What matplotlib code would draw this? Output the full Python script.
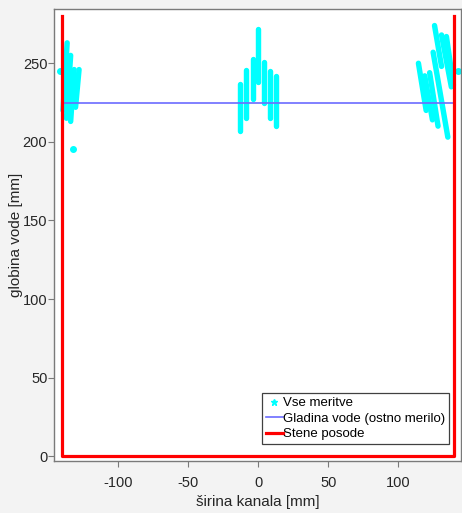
import matplotlib
matplotlib.use("Agg")
import matplotlib.pyplot as plt
from matplotlib.lines import Line2D

plt.rcParams["font.family"] = ["Liberation Sans", "DejaVu Sans"]
plt.rcParams["axes.unicode_minus"] = False

# measurement streaks: top end (x, y) and bottom end (x, y) in mm
streak_x_top = [-136.5, -134.0, -131.5, -128.0,
                -13.0, -9.0, -4.0, 0.0, 4.0, 8.5, 12.5,
                114.5, 119.0, 122.5, 125.0, 126.0, 131.0, 134.5]
streak_y_top = [263, 255, 246, 246,
                237, 246, 253, 272, 251, 245, 242,
                250, 242, 244, 257, 274, 268, 267]
streak_x_bot = [-139.5, -137.0, -134.0, -130.5,
                -13.0, -9.0, -4.0, 0.0, 4.0, 8.5, 12.5,
                120.0, 124.5, 128.5, 135.5, 131.0, 138.0, 139.5]
streak_y_bot = [220, 215, 213, 222,
                207, 215, 227, 238, 225, 215, 210,
                220, 214, 210, 203, 248, 235, 236]

# single stray measurements
point_x = [-132.0, -141.5, 142.5]
point_y = [195.5, 245.0, 245.0]

water_level = 225
wall_x = [-140, -140, 140, 140]
wall_y = [280, 0, 0, 280]

fig = plt.figure(figsize=(4.62, 5.13), dpi=100, facecolor="#f3f3f3")
ax = fig.add_axes([0.1175, 0.1014, 0.880, 0.881])
ax.set_facecolor("white")

cyan = "#00ffff"
for xt, yt, xb, yb in zip(streak_x_top, streak_y_top, streak_x_bot, streak_y_bot):
    ax.plot([xt, xb], [yt, yb], color=cyan, lw=3.9, solid_capstyle="round", zorder=2)
ax.plot(point_x, point_y, linestyle="none", marker="o", ms=4, color=cyan, zorder=2)

ax.plot([wall_x[0], wall_x[-1]], [water_level, water_level], color="#6b6bff", lw=1.2, zorder=3)
ax.plot(wall_x, wall_y, color="#ff0000", lw=2.3, zorder=4)

ax.set_xlim(-145.7, 144.8)
ax.set_ylim(-3, 284.5)
ax.set_xticks([-100, -50, 0, 50, 100])
ax.set_yticks([0, 50, 100, 150, 200, 250])

for s in ax.spines.values():
    s.set_color("#7a7a7a")
    s.set_linewidth(1.0)
ax.tick_params(direction="out", length=4, color="#7a7a7a", labelsize=10.5, labelcolor="#262626")
ax.tick_params(axis="x", pad=6.5)
ax.tick_params(axis="y", pad=1)
ax.set_xlabel("širina kanala [mm]", fontsize=11, color="#262626", labelpad=4)
ax.set_ylabel("globina vode [mm]", fontsize=11, color="#262626", labelpad=0)

handles = [
    Line2D([], [], linestyle="none", marker="*", ms=5, color=cyan),
    Line2D([], [], color="#6b6bff", lw=1.2),
    Line2D([], [], color="#ff0000", lw=2.3),
]
labels = ["Vse meritve", "Gladina vode (ostno merilo)", "Stene posode"]
leg = ax.legend(handles, labels, loc="lower right", bbox_to_anchor=(0.972, 0.037),
                fontsize=9.5, handlelength=1.3, handletextpad=0.05, labelspacing=0.25,
                borderpad=0.3, borderaxespad=0, fancybox=False, framealpha=1)
leg.get_frame().set_edgecolor("#404040")
leg.get_frame().set_linewidth(0.9)

fig.savefig("out.png", dpi=100, facecolor=fig.get_facecolor())
